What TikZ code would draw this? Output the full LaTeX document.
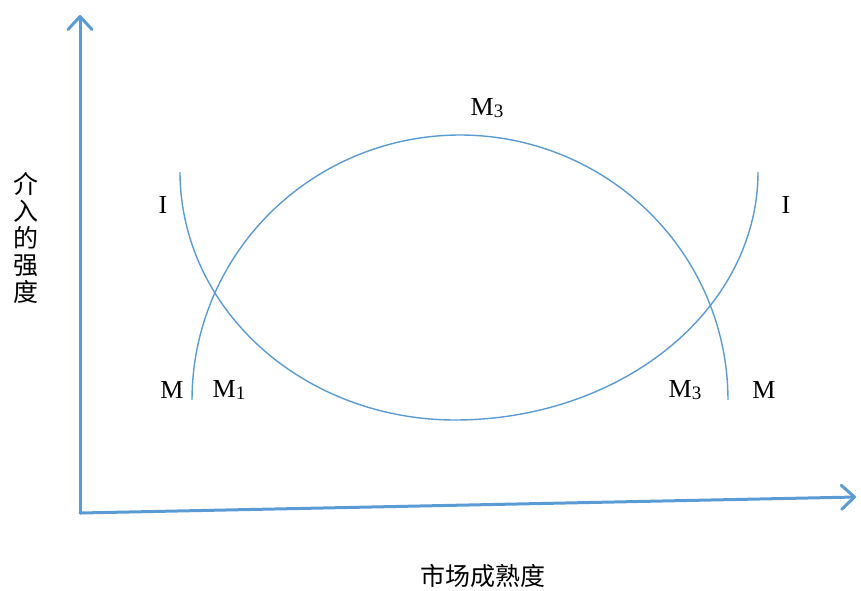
\documentclass[tikz,border=0pt]{standalone}
\usepackage{fontspec}
\setmainfont{Liberation Serif}
\newfontfamily\cjk{Noto Sans CJK SC}
\usetikzlibrary{arrows.meta}
\definecolor{lineblue}{HTML}{5B9BD5}
\newcommand{\Msub}[1]{M\raisebox{-1.5pt}{\fontsize{19}{19}\selectfont #1}}
\begin{document}
\begin{tikzpicture}[x=1pt,y=-1pt,
  axis/.style={draw=lineblue, line width=3pt, line cap=round,
    -{Straight Barb[length=13pt,width=24pt,line width=3pt,round]}},
  curve/.style={draw=lineblue, line width=1.4pt},
  lab/.style={font=\fontsize{26}{28}\selectfont, inner sep=0pt, text=black},
  cjklab/.style={font=\cjk\fontsize{25}{28}\selectfont, inner sep=0pt, text=black, align=center}]
\useasboundingbox (0,0) rectangle (861,590);
\coordinate (O) at (80,513);
\coordinate (ytip) at (80,15);
\coordinate (xtip) at (856,497);
\draw[axis] (O) -- (ytip);
\draw[axis] (O) -- (xtip);
% M curve (arch)
\draw[curve] plot[domain=180:0, samples=90, smooth] ({460+268*cos(\x)}, {400-265*sin(\x)});
% I curve (U)
\draw[curve] plot[domain=180:90, samples=60, smooth] ({455+275*cos(\x)}, {172+248*sin(\x)})
  -- plot[domain=90:0, samples=60, smooth] ({455+303*cos(\x)}, {172+248*sin(\x)});
% labels
\node[lab] (m3top) at (487,108) {\Msub{3}};
\node[lab] (il) at (163,205) {I};
\node[lab] (ir) at (786,205) {I};
\node[lab] (ml) at (172,390) {M};
\node[lab] (m1) at (229,390) {\Msub{1}};
\node[lab] (m3r) at (685,390) {\Msub{3}};
\node[lab] (mr) at (764,390) {M};
\node[cjklab] (ylab) at (26,238) {介\\[-1pt]入\\[-1pt]的\\[-1pt]强\\[-1pt]度};
\node[cjklab] (xlab) at (483,576) {市场成熟度};
\end{tikzpicture}
\end{document}
